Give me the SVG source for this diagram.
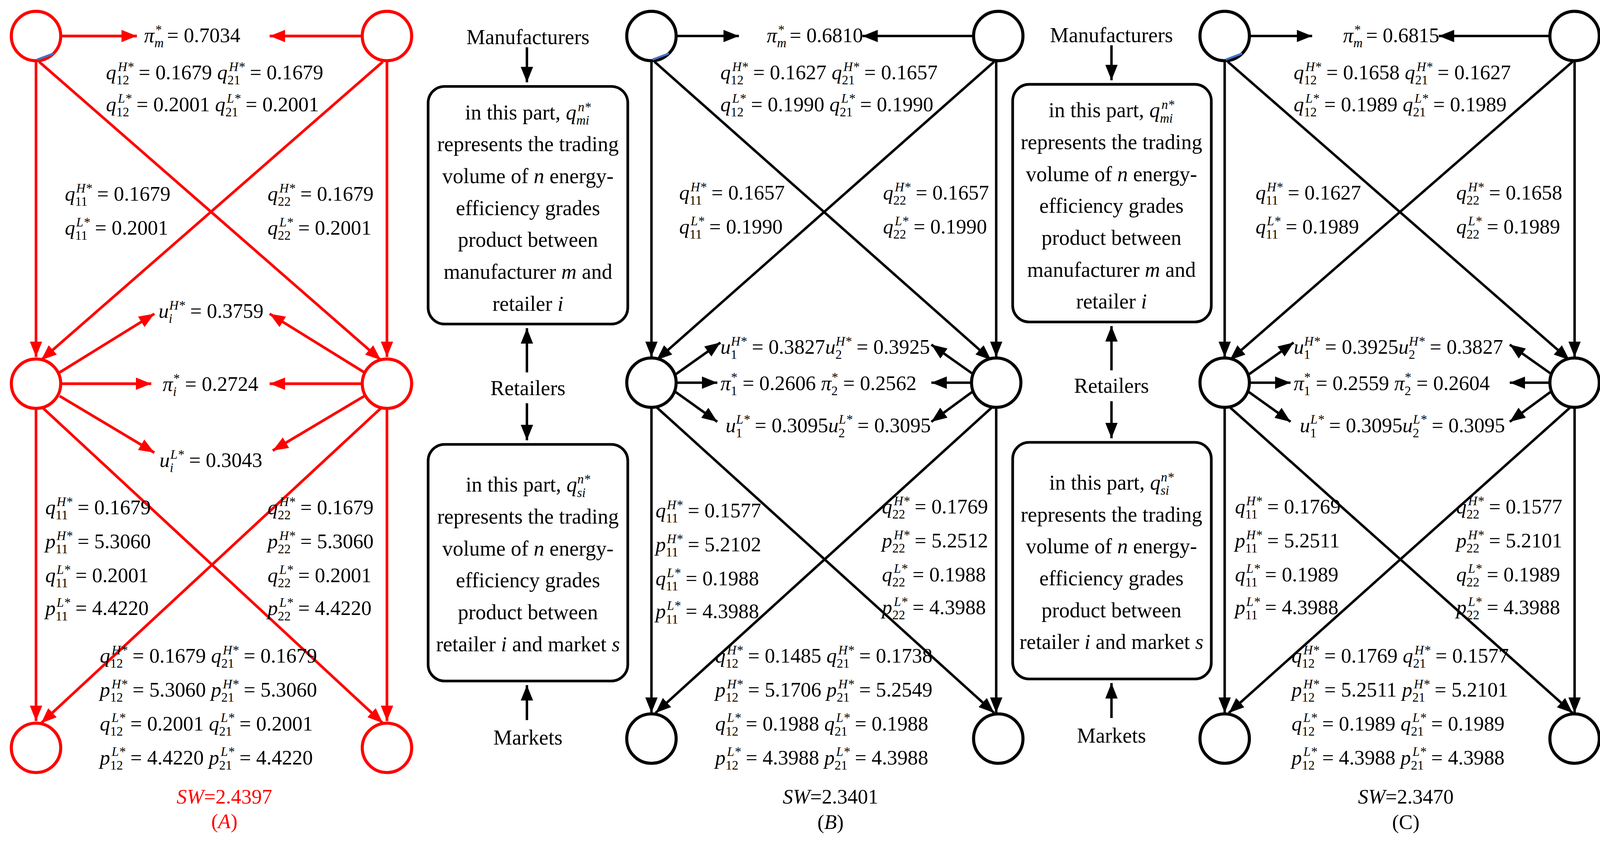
<svg xmlns="http://www.w3.org/2000/svg" width="4131" height="2159" viewBox="0 0 4131 2159">
<style>
text,tspan{font-family:"Liberation Serif","Times New Roman",Tinos,serif !important}
text{font-size:20px;fill:#000}
.rt{fill:#f00}
.i{font-style:italic}
.s{font-size:12.5px}
.bx{font-size:20.5px;text-anchor:middle}
.nr{fill:#fff;stroke:#f00;stroke-width:3}
.nb{fill:#fff;stroke:#000;stroke-width:3}
.cr{stroke:#f00;stroke-width:2.6;fill:none;marker-end:url(#ar)}
.cb{stroke:#000;stroke-width:2.4;fill:none;marker-end:url(#ab)}
.box{fill:#fff;stroke:#000;stroke-width:2.6}
</style>
<defs>
<marker id="ar" markerUnits="userSpaceOnUse" markerWidth="16" markerHeight="12" refX="15" refY="6" orient="auto"><path d="M0,0L15,6L0,12z" fill="#f00"/></marker>
<marker id="ab" markerUnits="userSpaceOnUse" markerWidth="16" markerHeight="12" refX="15" refY="6" orient="auto"><path d="M0,0L15,6L0,12z" fill="#000"/></marker>
</defs>
<rect width="4131" height="2159" fill="#fff"/>
<g transform="scale(2.6346)" font-family="Liberation Serif, serif">
<g id="connectors">
<path class="cr" d="M60,35L133,35"/><path class="cr" d="M351,35L262,35"/><path class="cr" d="M35,60L35,347"/><path class="cr" d="M376,60L376,347"/><path class="cr" d="M35,398L35,701"/><path class="cr" d="M376,398L376,701"/><path class="cr" d="M38,60L370,350"/><path class="cr" d="M372,60L40,350"/><path class="cr" d="M40,395L372,703"/><path class="cr" d="M372,395L40,703"/><path class="cr" d="M58,362L150,305"/><path class="cr" d="M354,362L262,305"/><path class="cr" d="M60,373L147,373"/><path class="cr" d="M351,373L262,373"/><path class="cr" d="M58,385L150,440"/><path class="cr" d="M354,385L265,438"/>
<path class="cb" d="M658,35L718,35"/><path class="cb" d="M945,35L838,35"/><path class="cb" d="M633,60L633,347"/><path class="cb" d="M968,60L968,347"/><path class="cb" d="M633,397L633,693"/><path class="cb" d="M968,397L968,693"/><path class="cb" d="M636,60L963,350"/><path class="cb" d="M966,60L638,350"/><path class="cb" d="M637,395L966,693"/><path class="cb" d="M965,395L637,693"/><path class="cb" d="M655,365L700,333"/><path class="cb" d="M946,364L905,335"/><path class="cb" d="M657,372L697,372"/><path class="cb" d="M944,372L905,372"/><path class="cb" d="M655,380L697,410"/><path class="cb" d="M946,380L905,410"/>
<path class="cb" d="M1215,35L1275,35"/><path class="cb" d="M1505,35L1398,35"/><path class="cb" d="M1190,60L1190,347"/><path class="cb" d="M1530,60L1530,347"/><path class="cb" d="M1190,397L1190,693"/><path class="cb" d="M1530,397L1530,693"/><path class="cb" d="M1193,60L1525,350"/><path class="cb" d="M1528,60L1195,350"/><path class="cb" d="M1194,395L1528,693"/><path class="cb" d="M1527,395L1194,693"/><path class="cb" d="M1212,365L1257,333"/><path class="cb" d="M1508,364L1467,335"/><path class="cb" d="M1214,372L1254,372"/><path class="cb" d="M1506,372L1467,372"/><path class="cb" d="M1212,380L1254,410"/><path class="cb" d="M1508,380L1467,410"/>
<path class="cb" d="M512,46L512,80"/><path class="cb" d="M512,362L512,319"/><path class="cb" d="M512,392L512,428"/><path class="cb" d="M512,700L512,666"/><path class="cb" d="M1080,44L1080,78"/><path class="cb" d="M1080,360L1080,317"/><path class="cb" d="M1080,390L1080,426"/><path class="cb" d="M1080,698L1080,664"/>
</g>
<g id="nodesA">
<circle class="nr" cx="35" cy="35" r="24"/><circle class="nr" cx="376" cy="35" r="24"/>
<circle class="nr" cx="35" cy="373" r="24"/><circle class="nr" cx="376" cy="373" r="24"/>
<circle class="nr" cx="35" cy="727" r="24"/><circle class="nr" cx="376" cy="727" r="24"/>
<path d="M36,58L52,52" stroke="#4472c4" stroke-width="2"/>
</g>
<g id="nodesB">
<circle class="nb" cx="633" cy="35" r="24"/><circle class="nb" cx="970" cy="35" r="24"/>
<circle class="nb" cx="633" cy="372" r="24"/><circle class="nb" cx="968" cy="372" r="24"/>
<circle class="nb" cx="633" cy="718" r="24"/><circle class="nb" cx="970" cy="718" r="24"/>
<path d="M634,58L650,52" stroke="#4472c4" stroke-width="2"/>
</g>
<g id="nodesC">
<circle class="nb" cx="1190" cy="35" r="24"/><circle class="nb" cx="1530" cy="35" r="24"/>
<circle class="nb" cx="1190" cy="372" r="24"/><circle class="nb" cx="1530" cy="372" r="24"/>
<circle class="nb" cx="1190" cy="718" r="24"/><circle class="nb" cx="1530" cy="718" r="24"/>
<path d="M1191,58L1207,52" stroke="#4472c4" stroke-width="2"/>
</g>
<g id="boxB">
<text x="513" y="43" class="bx">Manufacturers</text>
<rect class="box" x="416" y="84" width="194" height="231" rx="16"/>
<text x="513" y="116" class="bx">in this part, <tspan class="i">q</tspan><tspan class="s i" dy="5">mi</tspan><tspan class="s i" dx="-11" dy="-13">n*</tspan></text>
<text x="513" y="147" class="bx">represents the trading</text>
<text x="513" y="178" class="bx">volume of <tspan class="i">n</tspan> energy-</text>
<text x="513" y="209" class="bx">efficiency grades</text>
<text x="513" y="240" class="bx">product between</text>
<text x="513" y="271" class="bx">manufacturer <tspan class="i">m</tspan> and</text>
<text x="513" y="302" class="bx">retailer <tspan class="i">i</tspan></text>
<text x="513" y="384" class="bx">Retailers</text>
<rect class="box" x="416" y="432" width="194" height="230" rx="16"/>
<text x="513" y="478" class="bx">in this part, <tspan class="i">q</tspan><tspan class="s i" dy="5">si</tspan><tspan class="s i" dx="-8" dy="-13">n*</tspan></text>
<text x="513" y="509" class="bx">represents the trading</text>
<text x="513" y="540" class="bx">volume of <tspan class="i">n</tspan> energy-</text>
<text x="513" y="571" class="bx">efficiency grades</text>
<text x="513" y="602" class="bx">product between</text>
<text x="513" y="633" class="bx">retailer <tspan class="i">i</tspan> and market <tspan class="i">s</tspan></text>
<text x="513" y="724" class="bx">Markets</text>
</g>
<g id="boxC">
<text x="1080" y="41" class="bx">Manufacturers</text>
<rect class="box" x="984" y="82" width="193" height="231" rx="16"/>
<text x="1080" y="114" class="bx">in this part, <tspan class="i">q</tspan><tspan class="s i" dy="5">mi</tspan><tspan class="s i" dx="-11" dy="-13">n*</tspan></text>
<text x="1080" y="145" class="bx">represents the trading</text>
<text x="1080" y="176" class="bx">volume of <tspan class="i">n</tspan> energy-</text>
<text x="1080" y="207" class="bx">efficiency grades</text>
<text x="1080" y="238" class="bx">product between</text>
<text x="1080" y="269" class="bx">manufacturer <tspan class="i">m</tspan> and</text>
<text x="1080" y="300" class="bx">retailer <tspan class="i">i</tspan></text>
<text x="1080" y="382" class="bx">Retailers</text>
<rect class="box" x="984" y="430" width="193" height="230" rx="16"/>
<text x="1080" y="476" class="bx">in this part, <tspan class="i">q</tspan><tspan class="s i" dy="5">si</tspan><tspan class="s i" dx="-8" dy="-13">n*</tspan></text>
<text x="1080" y="507" class="bx">represents the trading</text>
<text x="1080" y="538" class="bx">volume of <tspan class="i">n</tspan> energy-</text>
<text x="1080" y="569" class="bx">efficiency grades</text>
<text x="1080" y="600" class="bx">product between</text>
<text x="1080" y="631" class="bx">retailer <tspan class="i">i</tspan> and market <tspan class="i">s</tspan></text>
<text x="1080" y="722" class="bx">Markets</text>
</g>
<g id="labelsA">
<text x="140" y="41"><tspan class="i">π</tspan><tspan class="s i" dy="5">m</tspan><tspan class="s" dx="-8" dy="-13">*</tspan><tspan dy="8"> = 0.7034</tspan></text>
<text x="103" y="77"><tspan class="i">q</tspan><tspan class="s" dy="5">12</tspan><tspan class="s i" dx="-11" dy="-13">H*</tspan><tspan dy="8"> = 0.1679  </tspan><tspan class="i">q</tspan><tspan class="s" dy="5">21</tspan><tspan class="s i" dx="-11" dy="-13">H*</tspan><tspan dy="8"> = 0.1679</tspan></text>
<text x="103" y="108"><tspan class="i">q</tspan><tspan class="s" dy="5">12</tspan><tspan class="s i" dx="-11" dy="-13">L*</tspan><tspan dy="8"> = 0.2001  </tspan><tspan class="i">q</tspan><tspan class="s" dy="5">21</tspan><tspan class="s i" dx="-11" dy="-13">L*</tspan><tspan dy="8"> = 0.2001</tspan></text>
<text x="63" y="195"><tspan class="i">q</tspan><tspan class="s" dy="5">11</tspan><tspan class="s i" dx="-11" dy="-13">H*</tspan><tspan dy="8"> = 0.1679</tspan></text>
<text x="63" y="228"><tspan class="i">q</tspan><tspan class="s" dy="5">11</tspan><tspan class="s i" dx="-11" dy="-13">L*</tspan><tspan dy="8"> = 0.2001</tspan></text>
<text x="260" y="195"><tspan class="i">q</tspan><tspan class="s" dy="5">22</tspan><tspan class="s i" dx="-11" dy="-13">H*</tspan><tspan dy="8"> = 0.1679</tspan></text>
<text x="260" y="228"><tspan class="i">q</tspan><tspan class="s" dy="5">22</tspan><tspan class="s i" dx="-11" dy="-13">L*</tspan><tspan dy="8"> = 0.2001</tspan></text>
<text x="154" y="309"><tspan class="i">u</tspan><tspan class="s i" dy="5">i</tspan><tspan class="s i" dx="-3" dy="-13">H*</tspan><tspan dy="8"> = 0.3759</tspan></text>
<text x="158" y="380"><tspan class="i">π</tspan><tspan class="s i" dy="5">i</tspan><tspan class="s" dx="-3" dy="-13">*</tspan><tspan dy="8"> = 0.2724</tspan></text>
<text x="155" y="454"><tspan class="i">u</tspan><tspan class="s i" dy="5">i</tspan><tspan class="s i" dx="-3" dy="-13">L*</tspan><tspan dy="8"> = 0.3043</tspan></text>
<text x="44" y="500"><tspan class="i">q</tspan><tspan class="s" dy="5">11</tspan><tspan class="s i" dx="-11" dy="-13">H*</tspan><tspan dy="8"> = 0.1679</tspan></text>
<text x="44" y="533"><tspan class="i">p</tspan><tspan class="s" dy="5">11</tspan><tspan class="s i" dx="-11" dy="-13">H*</tspan><tspan dy="8"> = 5.3060</tspan></text>
<text x="44" y="566"><tspan class="i">q</tspan><tspan class="s" dy="5">11</tspan><tspan class="s i" dx="-11" dy="-13">L*</tspan><tspan dy="8"> = 0.2001</tspan></text>
<text x="44" y="598"><tspan class="i">p</tspan><tspan class="s" dy="5">11</tspan><tspan class="s i" dx="-11" dy="-13">L*</tspan><tspan dy="8"> = 4.4220</tspan></text>
<text x="260" y="500"><tspan class="i">q</tspan><tspan class="s" dy="5">22</tspan><tspan class="s i" dx="-11" dy="-13">H*</tspan><tspan dy="8"> = 0.1679</tspan></text>
<text x="260" y="533"><tspan class="i">p</tspan><tspan class="s" dy="5">22</tspan><tspan class="s i" dx="-11" dy="-13">H*</tspan><tspan dy="8"> = 5.3060</tspan></text>
<text x="260" y="566"><tspan class="i">q</tspan><tspan class="s" dy="5">22</tspan><tspan class="s i" dx="-11" dy="-13">L*</tspan><tspan dy="8"> = 0.2001</tspan></text>
<text x="260" y="598"><tspan class="i">p</tspan><tspan class="s" dy="5">22</tspan><tspan class="s i" dx="-11" dy="-13">L*</tspan><tspan dy="8"> = 4.4220</tspan></text>
<text x="97" y="644"><tspan class="i">q</tspan><tspan class="s" dy="5">12</tspan><tspan class="s i" dx="-11" dy="-13">H*</tspan><tspan dy="8"> = 0.1679 </tspan><tspan class="i">q</tspan><tspan class="s" dy="5">21</tspan><tspan class="s i" dx="-11" dy="-13">H*</tspan><tspan dy="8"> = 0.1679</tspan></text>
<text x="97" y="677"><tspan class="i">p</tspan><tspan class="s" dy="5">12</tspan><tspan class="s i" dx="-11" dy="-13">H*</tspan><tspan dy="8"> = 5.3060 </tspan><tspan class="i">p</tspan><tspan class="s" dy="5">21</tspan><tspan class="s i" dx="-11" dy="-13">H*</tspan><tspan dy="8"> = 5.3060</tspan></text>
<text x="97" y="710"><tspan class="i">q</tspan><tspan class="s" dy="5">12</tspan><tspan class="s i" dx="-11" dy="-13">L*</tspan><tspan dy="8"> = 0.2001 </tspan><tspan class="i">q</tspan><tspan class="s" dy="5">21</tspan><tspan class="s i" dx="-11" dy="-13">L*</tspan><tspan dy="8"> = 0.2001</tspan></text>
<text x="97" y="743"><tspan class="i">p</tspan><tspan class="s" dy="5">12</tspan><tspan class="s i" dx="-11" dy="-13">L*</tspan><tspan dy="8"> = 4.4220 </tspan><tspan class="i">p</tspan><tspan class="s" dy="5">21</tspan><tspan class="s i" dx="-11" dy="-13">L*</tspan><tspan dy="8"> = 4.4220</tspan></text>
<text x="218" y="781" class="rt" text-anchor="middle"><tspan class="i">SW</tspan>=2.4397</text>
<text x="218" y="805" class="rt" text-anchor="middle">(<tspan class="i">A</tspan>)</text>
</g>
<g id="labelsB">
<text x="745" y="41"><tspan class="i">π</tspan><tspan class="s i" dy="5">m</tspan><tspan class="s" dx="-8" dy="-13">*</tspan><tspan dy="8"> = 0.6810</tspan></text>
<text x="700" y="77"><tspan class="i">q</tspan><tspan class="s" dy="5">12</tspan><tspan class="s i" dx="-11" dy="-13">H*</tspan><tspan dy="8"> = 0.1627  </tspan><tspan class="i">q</tspan><tspan class="s" dy="5">21</tspan><tspan class="s i" dx="-11" dy="-13">H*</tspan><tspan dy="8"> = 0.1657</tspan></text>
<text x="700" y="108"><tspan class="i">q</tspan><tspan class="s" dy="5">12</tspan><tspan class="s i" dx="-11" dy="-13">L*</tspan><tspan dy="8"> = 0.1990  </tspan><tspan class="i">q</tspan><tspan class="s" dy="5">21</tspan><tspan class="s i" dx="-11" dy="-13">L*</tspan><tspan dy="8"> = 0.1990</tspan></text>
<text x="660" y="194"><tspan class="i">q</tspan><tspan class="s" dy="5">11</tspan><tspan class="s i" dx="-11" dy="-13">H*</tspan><tspan dy="8"> = 0.1657</tspan></text>
<text x="660" y="227"><tspan class="i">q</tspan><tspan class="s" dy="5">11</tspan><tspan class="s i" dx="-11" dy="-13">L*</tspan><tspan dy="8"> = 0.1990</tspan></text>
<text x="858" y="194"><tspan class="i">q</tspan><tspan class="s" dy="5">22</tspan><tspan class="s i" dx="-11" dy="-13">H*</tspan><tspan dy="8"> = 0.1657</tspan></text>
<text x="858" y="227"><tspan class="i">q</tspan><tspan class="s" dy="5">22</tspan><tspan class="s i" dx="-11" dy="-13">L*</tspan><tspan dy="8"> = 0.1990</tspan></text>
<text x="700" y="344"><tspan class="i">u</tspan><tspan class="s" dy="5">1</tspan><tspan class="s i" dx="-6" dy="-13">H*</tspan><tspan dy="8"> = 0.3827</tspan><tspan class="i">u</tspan><tspan class="s" dy="5">2</tspan><tspan class="s i" dx="-6" dy="-13">H*</tspan><tspan dy="8"> = 0.3925</tspan></text>
<text x="700" y="379"><tspan class="i">π</tspan><tspan class="s" dy="5">1</tspan><tspan class="s" dx="-6" dy="-13">*</tspan><tspan dy="8"> = 0.2606 </tspan><tspan class="i">π</tspan><tspan class="s" dy="5">2</tspan><tspan class="s" dx="-6" dy="-13">*</tspan><tspan dy="8"> = 0.2562</tspan></text>
<text x="705" y="420"><tspan class="i">u</tspan><tspan class="s" dy="5">1</tspan><tspan class="s i" dx="-6" dy="-13">L*</tspan><tspan dy="8"> = 0.3095</tspan><tspan class="i">u</tspan><tspan class="s" dy="5">2</tspan><tspan class="s i" dx="-6" dy="-13">L*</tspan><tspan dy="8"> = 0.3095</tspan></text>
<text x="637" y="503"><tspan class="i">q</tspan><tspan class="s" dy="5">11</tspan><tspan class="s i" dx="-11" dy="-13">H*</tspan><tspan dy="8"> = 0.1577</tspan></text>
<text x="637" y="536"><tspan class="i">p</tspan><tspan class="s" dy="5">11</tspan><tspan class="s i" dx="-11" dy="-13">H*</tspan><tspan dy="8"> = 5.2102</tspan></text>
<text x="637" y="569"><tspan class="i">q</tspan><tspan class="s" dy="5">11</tspan><tspan class="s i" dx="-11" dy="-13">L*</tspan><tspan dy="8"> = 0.1988</tspan></text>
<text x="637" y="601"><tspan class="i">p</tspan><tspan class="s" dy="5">11</tspan><tspan class="s i" dx="-11" dy="-13">L*</tspan><tspan dy="8"> = 4.3988</tspan></text>
<text x="857" y="499"><tspan class="i">q</tspan><tspan class="s" dy="5">22</tspan><tspan class="s i" dx="-11" dy="-13">H*</tspan><tspan dy="8"> = 0.1769</tspan></text>
<text x="857" y="532"><tspan class="i">p</tspan><tspan class="s" dy="5">22</tspan><tspan class="s i" dx="-11" dy="-13">H*</tspan><tspan dy="8"> = 5.2512</tspan></text>
<text x="857" y="565"><tspan class="i">q</tspan><tspan class="s" dy="5">22</tspan><tspan class="s i" dx="-11" dy="-13">L*</tspan><tspan dy="8"> = 0.1988</tspan></text>
<text x="857" y="597"><tspan class="i">p</tspan><tspan class="s" dy="5">22</tspan><tspan class="s i" dx="-11" dy="-13">L*</tspan><tspan dy="8"> = 4.3988</tspan></text>
<text x="695" y="644"><tspan class="i">q</tspan><tspan class="s" dy="5">12</tspan><tspan class="s i" dx="-11" dy="-13">H*</tspan><tspan dy="8"> = 0.1485 </tspan><tspan class="i">q</tspan><tspan class="s" dy="5">21</tspan><tspan class="s i" dx="-11" dy="-13">H*</tspan><tspan dy="8"> = 0.1738</tspan></text>
<text x="695" y="677"><tspan class="i">p</tspan><tspan class="s" dy="5">12</tspan><tspan class="s i" dx="-11" dy="-13">H*</tspan><tspan dy="8"> = 5.1706 </tspan><tspan class="i">p</tspan><tspan class="s" dy="5">21</tspan><tspan class="s i" dx="-11" dy="-13">H*</tspan><tspan dy="8"> = 5.2549</tspan></text>
<text x="695" y="710"><tspan class="i">q</tspan><tspan class="s" dy="5">12</tspan><tspan class="s i" dx="-11" dy="-13">L*</tspan><tspan dy="8"> = 0.1988 </tspan><tspan class="i">q</tspan><tspan class="s" dy="5">21</tspan><tspan class="s i" dx="-11" dy="-13">L*</tspan><tspan dy="8"> = 0.1988</tspan></text>
<text x="695" y="743"><tspan class="i">p</tspan><tspan class="s" dy="5">12</tspan><tspan class="s i" dx="-11" dy="-13">L*</tspan><tspan dy="8"> = 4.3988 </tspan><tspan class="i">p</tspan><tspan class="s" dy="5">21</tspan><tspan class="s i" dx="-11" dy="-13">L*</tspan><tspan dy="8"> = 4.3988</tspan></text>
<text x="807" y="781" text-anchor="middle"><tspan class="i">SW</tspan>=2.3401</text>
<text x="807" y="806" text-anchor="middle">(<tspan class="i">B</tspan>)</text>
</g>
<g id="labelsC">
<text x="1305" y="41"><tspan class="i">π</tspan><tspan class="s i" dy="5">m</tspan><tspan class="s" dx="-8" dy="-13">*</tspan><tspan dy="8"> = 0.6815</tspan></text>
<text x="1257" y="77"><tspan class="i">q</tspan><tspan class="s" dy="5">12</tspan><tspan class="s i" dx="-11" dy="-13">H*</tspan><tspan dy="8"> = 0.1658  </tspan><tspan class="i">q</tspan><tspan class="s" dy="5">21</tspan><tspan class="s i" dx="-11" dy="-13">H*</tspan><tspan dy="8"> = 0.1627</tspan></text>
<text x="1257" y="108"><tspan class="i">q</tspan><tspan class="s" dy="5">12</tspan><tspan class="s i" dx="-11" dy="-13">L*</tspan><tspan dy="8"> = 0.1989  </tspan><tspan class="i">q</tspan><tspan class="s" dy="5">21</tspan><tspan class="s i" dx="-11" dy="-13">L*</tspan><tspan dy="8"> = 0.1989</tspan></text>
<text x="1220" y="194"><tspan class="i">q</tspan><tspan class="s" dy="5">11</tspan><tspan class="s i" dx="-11" dy="-13">H*</tspan><tspan dy="8"> = 0.1627</tspan></text>
<text x="1220" y="227"><tspan class="i">q</tspan><tspan class="s" dy="5">11</tspan><tspan class="s i" dx="-11" dy="-13">L*</tspan><tspan dy="8"> = 0.1989</tspan></text>
<text x="1415" y="194"><tspan class="i">q</tspan><tspan class="s" dy="5">22</tspan><tspan class="s i" dx="-11" dy="-13">H*</tspan><tspan dy="8"> = 0.1658</tspan></text>
<text x="1415" y="227"><tspan class="i">q</tspan><tspan class="s" dy="5">22</tspan><tspan class="s i" dx="-11" dy="-13">L*</tspan><tspan dy="8"> = 0.1989</tspan></text>
<text x="1257" y="344"><tspan class="i">u</tspan><tspan class="s" dy="5">1</tspan><tspan class="s i" dx="-6" dy="-13">H*</tspan><tspan dy="8"> = 0.3925</tspan><tspan class="i">u</tspan><tspan class="s" dy="5">2</tspan><tspan class="s i" dx="-6" dy="-13">H*</tspan><tspan dy="8"> = 0.3827</tspan></text>
<text x="1257" y="379"><tspan class="i">π</tspan><tspan class="s" dy="5">1</tspan><tspan class="s" dx="-6" dy="-13">*</tspan><tspan dy="8"> = 0.2559 </tspan><tspan class="i">π</tspan><tspan class="s" dy="5">2</tspan><tspan class="s" dx="-6" dy="-13">*</tspan><tspan dy="8"> = 0.2604</tspan></text>
<text x="1263" y="420"><tspan class="i">u</tspan><tspan class="s" dy="5">1</tspan><tspan class="s i" dx="-6" dy="-13">L*</tspan><tspan dy="8"> = 0.3095</tspan><tspan class="i">u</tspan><tspan class="s" dy="5">2</tspan><tspan class="s i" dx="-6" dy="-13">L*</tspan><tspan dy="8"> = 0.3095</tspan></text>
<text x="1200" y="499"><tspan class="i">q</tspan><tspan class="s" dy="5">11</tspan><tspan class="s i" dx="-11" dy="-13">H*</tspan><tspan dy="8"> = 0.1769</tspan></text>
<text x="1200" y="532"><tspan class="i">p</tspan><tspan class="s" dy="5">11</tspan><tspan class="s i" dx="-11" dy="-13">H*</tspan><tspan dy="8"> = 5.2511</tspan></text>
<text x="1200" y="565"><tspan class="i">q</tspan><tspan class="s" dy="5">11</tspan><tspan class="s i" dx="-11" dy="-13">L*</tspan><tspan dy="8"> = 0.1989</tspan></text>
<text x="1200" y="597"><tspan class="i">p</tspan><tspan class="s" dy="5">11</tspan><tspan class="s i" dx="-11" dy="-13">L*</tspan><tspan dy="8"> = 4.3988</tspan></text>
<text x="1415" y="499"><tspan class="i">q</tspan><tspan class="s" dy="5">22</tspan><tspan class="s i" dx="-11" dy="-13">H*</tspan><tspan dy="8"> = 0.1577</tspan></text>
<text x="1415" y="532"><tspan class="i">p</tspan><tspan class="s" dy="5">22</tspan><tspan class="s i" dx="-11" dy="-13">H*</tspan><tspan dy="8"> = 5.2101</tspan></text>
<text x="1415" y="565"><tspan class="i">q</tspan><tspan class="s" dy="5">22</tspan><tspan class="s i" dx="-11" dy="-13">L*</tspan><tspan dy="8"> = 0.1989</tspan></text>
<text x="1415" y="597"><tspan class="i">p</tspan><tspan class="s" dy="5">22</tspan><tspan class="s i" dx="-11" dy="-13">L*</tspan><tspan dy="8"> = 4.3988</tspan></text>
<text x="1255" y="644"><tspan class="i">q</tspan><tspan class="s" dy="5">12</tspan><tspan class="s i" dx="-11" dy="-13">H*</tspan><tspan dy="8"> = 0.1769 </tspan><tspan class="i">q</tspan><tspan class="s" dy="5">21</tspan><tspan class="s i" dx="-11" dy="-13">H*</tspan><tspan dy="8"> = 0.1577</tspan></text>
<text x="1255" y="677"><tspan class="i">p</tspan><tspan class="s" dy="5">12</tspan><tspan class="s i" dx="-11" dy="-13">H*</tspan><tspan dy="8"> = 5.2511 </tspan><tspan class="i">p</tspan><tspan class="s" dy="5">21</tspan><tspan class="s i" dx="-11" dy="-13">H*</tspan><tspan dy="8"> = 5.2101</tspan></text>
<text x="1255" y="710"><tspan class="i">q</tspan><tspan class="s" dy="5">12</tspan><tspan class="s i" dx="-11" dy="-13">L*</tspan><tspan dy="8"> = 0.1989 </tspan><tspan class="i">q</tspan><tspan class="s" dy="5">21</tspan><tspan class="s i" dx="-11" dy="-13">L*</tspan><tspan dy="8"> = 0.1989</tspan></text>
<text x="1255" y="743"><tspan class="i">p</tspan><tspan class="s" dy="5">12</tspan><tspan class="s i" dx="-11" dy="-13">L*</tspan><tspan dy="8"> = 4.3988 </tspan><tspan class="i">p</tspan><tspan class="s" dy="5">21</tspan><tspan class="s i" dx="-11" dy="-13">L*</tspan><tspan dy="8"> = 4.3988</tspan></text>
<text x="1366" y="781" text-anchor="middle"><tspan class="i">SW</tspan>=2.3470</text>
<text x="1366" y="806" text-anchor="middle">(C)</text>
</g>
</g>
</svg>
